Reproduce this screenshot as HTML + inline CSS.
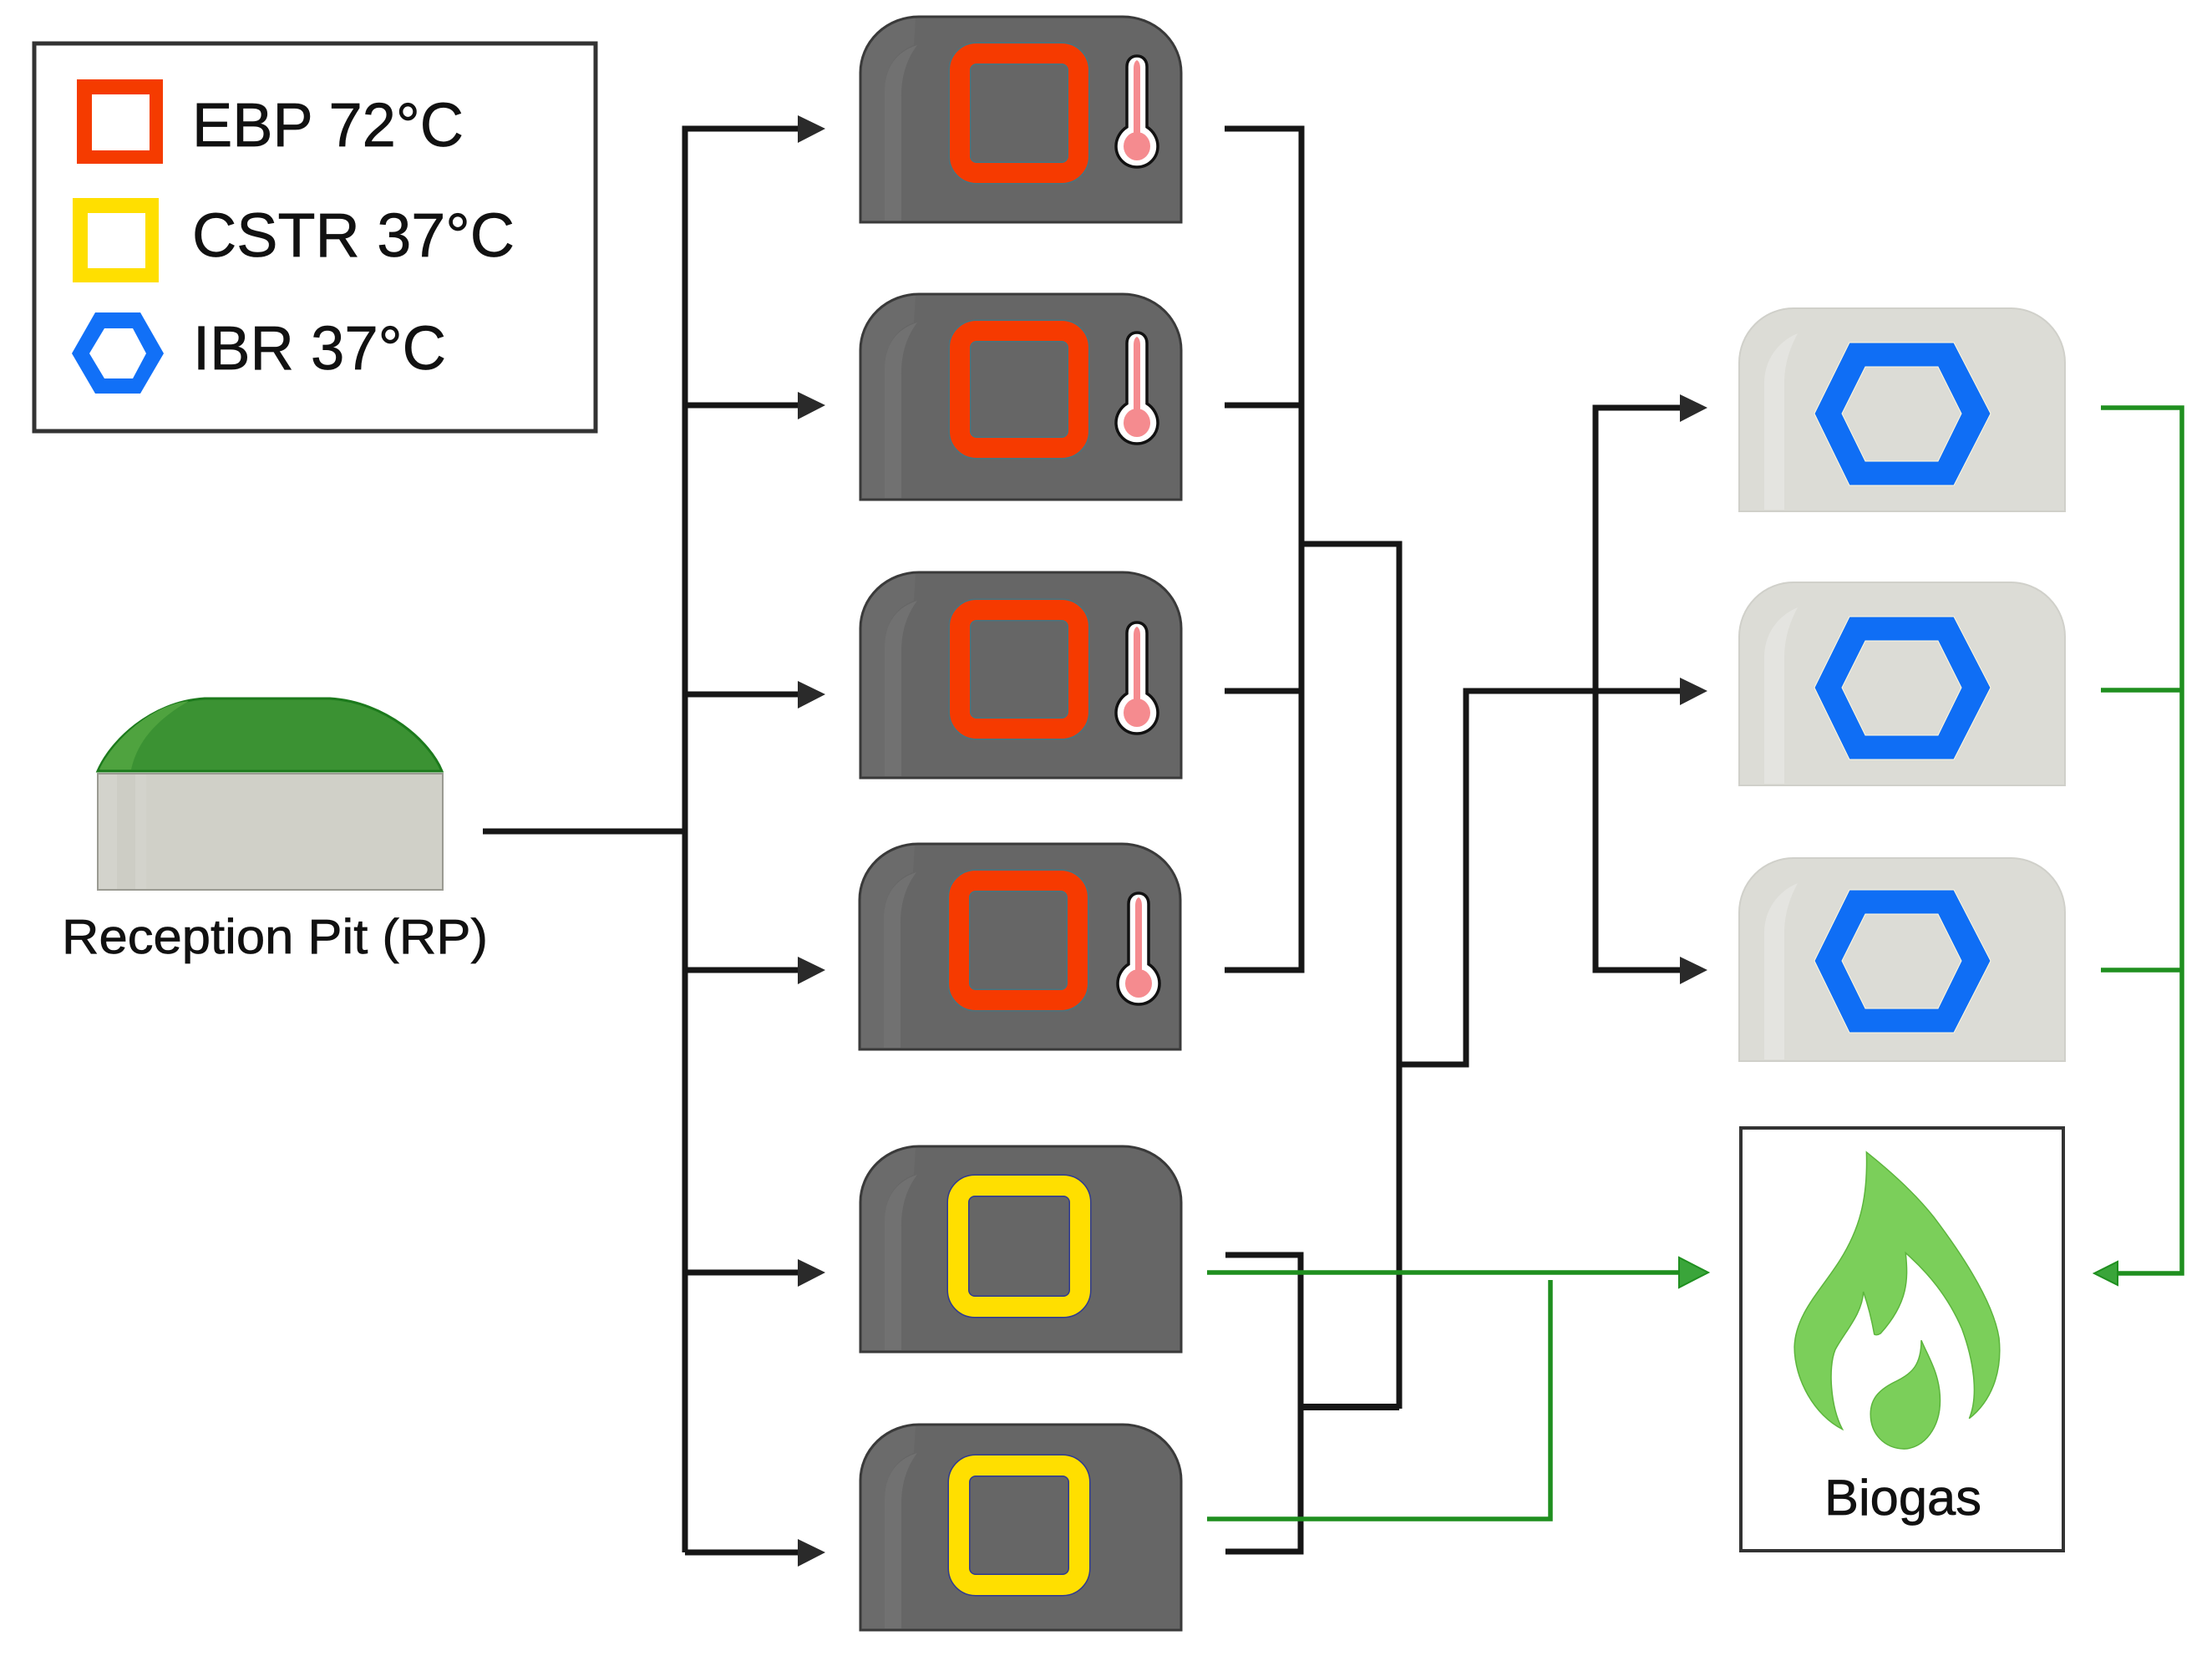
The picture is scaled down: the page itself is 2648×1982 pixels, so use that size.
<!DOCTYPE html>
<html><head><meta charset="utf-8"><style>
html,body{margin:0;padding:0;background:#fff}
svg{display:block}
text{font-family:"Liberation Sans",sans-serif;fill:#111;stroke:#111;stroke-width:.7}
</style></head><body>
<svg xmlns="http://www.w3.org/2000/svg" width="2648" height="1982" viewBox="0 0 2648 1982">
<defs>
<g id="dig">
<path d="M1030 246V67A70 67 0 0 1 1100 0H1344A70 67 0 0 1 1414 67V246Z" fill="#666" stroke="#3a3a3a" stroke-width="3"/>
<path d="M1032 244V67A68 65 0 0 1 1096 2L1094 34C1072 42 1059 62 1059 90V244Z" fill="#6b6b6b"/>
<path d="M1059 244V90C1059 62 1072 42 1098 34C1086 50 1079 70 1079 95V244Z" fill="#717171"/>
</g>
<g id="ibr">
<path d="M2082 243V65A65 65 0 0 1 2147 0H2407A65 65 0 0 1 2472 65V243Z" fill="#dcdcd6" stroke="#d0d0ca" stroke-width="2"/>
<path d="M2112 241V90C2112 62 2128 40 2152 30C2144 45 2136 65 2136 90V241Z" fill="#e4e4e0"/>
</g>
<g id="therm">
<path d="M1349 78C1349 70 1354 65 1361 65C1368 65 1373 70 1373 78V150C1381 155 1386 164 1386 173C1386 187 1375 198 1361 198C1347 198 1336 187 1336 173C1336 164 1341 155 1349 150Z" fill="#fff" stroke="#111" stroke-width="3.5"/>
<path d="M1357 80C1357 74 1359 71 1361 70C1363 71 1365 74 1365 80V158H1357Z" fill="#f58b8f"/>
<ellipse cx="1361" cy="173" rx="16" ry="17" fill="#f58b8f"/>
</g>
<path id="hex" d="M2214 0H2339L2383 85L2339 171H2214L2172 85ZM2233 29L2205 85L2233 142H2320L2348 85L2320 29Z" fill="#0f6ef5" fill-rule="evenodd" stroke="#fff9e0" stroke-width="1"/>
</defs>

<!-- legend -->
<rect x="41" y="52" width="672" height="464" fill="#fff" stroke="#333" stroke-width="5"/>
<path d="M92 95H195V196H92ZM110 113V180H179V113Z" fill="#f53b00" fill-rule="evenodd"/>
<path d="M87 237H190V338H87ZM105 255V321H174V255Z" fill="#ffdf00" fill-rule="evenodd"/>
<path d="M114 374H168L196 423L168 471H114L86 423ZM125 393L107 423L125 453H159L175 423L159 393Z" fill="#1170f7" fill-rule="evenodd"/>
<text x="230" y="175" font-size="74" textLength="325" lengthAdjust="spacingAndGlyphs">EBP 72°C</text>
<text x="230" y="307" font-size="74" textLength="386" lengthAdjust="spacingAndGlyphs">CSTR 37°C</text>
<text x="231" y="442" font-size="74" textLength="303" lengthAdjust="spacingAndGlyphs">IBR 37°C</text>

<!-- reception pit -->
<rect x="117" y="926" width="413" height="139" fill="#d0d0c8" stroke="#9a9a92" stroke-width="2"/>
<rect x="118" y="927" width="57" height="137" fill="#d3d3cc"/>
<rect x="140" y="927" width="22" height="137" fill="#cdcdc5"/>
<path d="M117 923C132 888 180 840 245 836H395C462 840 515 888 529 923Z" fill="#3b9233" stroke="#1c7a1c" stroke-width="3"/>
<path d="M119 921C134 888 180 844 226 839C190 860 165 885 157 921Z" fill="#4fa33f"/>
<text x="74" y="1141" font-size="58" textLength="510" lengthAdjust="spacingAndGlyphs">Reception Pit (RP)</text>

<!-- digesters -->
<use href="#dig" transform="translate(0,20)"/>
<use href="#dig" transform="translate(0,352)"/>
<use href="#dig" transform="translate(0,685)"/>
<use href="#dig" transform="translate(-1,1010)"/>
<use href="#dig" transform="translate(0,1372)"/>
<use href="#dig" transform="translate(0,1705)"/>

<g fill="none">
<g stroke="#3f7a88" stroke-width="27" opacity=".75">
<rect x="1149" y="64" width="142" height="143" rx="20"/>
<rect x="1149" y="396" width="142" height="140" rx="20"/>
<rect x="1149" y="730" width="142" height="142" rx="20"/>
<rect x="1148" y="1054" width="142" height="143" rx="20"/>
</g>
<g stroke="#f63a00" stroke-width="24">
<rect x="1149" y="64" width="142" height="143" rx="20"/>
<rect x="1149" y="396" width="142" height="140" rx="20"/>
<rect x="1149" y="730" width="142" height="142" rx="20"/>
<rect x="1148" y="1054" width="142" height="143" rx="20"/>
</g>
<g stroke="#2f3a90" stroke-width="27">
<rect x="1147" y="1419" width="146" height="145" rx="20"/>
<rect x="1148" y="1754" width="144" height="143" rx="20"/>
</g>
<g stroke="#ffdf00" stroke-width="24">
<rect x="1147" y="1419" width="146" height="145" rx="20"/>
<rect x="1148" y="1754" width="144" height="143" rx="20"/>
</g>
</g>
<use href="#therm" transform="translate(0,2)"/>
<use href="#therm" transform="translate(0,333)"/>
<use href="#therm" transform="translate(0,680)"/>
<use href="#therm" transform="translate(2,1004)"/>

<!-- IBR -->
<use href="#ibr" transform="translate(0,369)"/>
<use href="#ibr" transform="translate(0,697)"/>
<use href="#ibr" transform="translate(0,1027)"/>
<use href="#hex" transform="translate(0,410)"/>
<use href="#hex" transform="translate(0,738)"/>
<use href="#hex" transform="translate(0,1065)"/>

<!-- biogas -->
<rect x="2084" y="1350" width="386" height="506" fill="#fff" stroke="#333" stroke-width="4"/>
<g transform="translate(2060,1330) scale(.375,.357)" fill="#7bcf5a" stroke="#5cb53c" stroke-width="4">
<path d="M465 137C540 200 620 275 680 355C770 480 870 640 888 760C900 880 860 975 793 1030C825 950 805 830 770 730C725 620 660 540 590 475C598 560 600 640 510 745C500 752 492 750 490 748C482 700 470 650 455 605C452 680 395 740 365 800C342 860 350 990 388 1066C300 1020 235 900 235 790C238 680 320 600 380 500C440 400 470 300 465 137Z"/>
<path d="M640 768C660 820 700 880 700 970C700 1060 650 1130 585 1132C520 1130 478 1080 478 1015C478 960 510 930 560 905C610 880 640 850 640 768Z"/>
</g>
<text x="2184" y="1813" font-size="60" textLength="188" lengthAdjust="spacingAndGlyphs">Biogas</text>

<!-- black connectors -->
<g fill="none" stroke="#161616" stroke-width="7">
<path d="M578 995H820"/>
<path d="M820 1858V154H960"/>
<path d="M820 485H960M820 831H960M820 1161H960M820 1523H960M820 1858H960"/>
<path d="M1466 154H1558V1161H1466M1466 485H1558M1466 827H1558"/>
<path d="M1558 651H1675V1686"/>
<path d="M1675 1274H1755V827H2015"/>
<path d="M2015 488H1910V1161H2015"/>
<path d="M1467 1502H1557V1857H1467" stroke-width="7"/>
<path d="M1557 1684H1675" stroke-width="8"/>
</g>
<g fill="#2a2a2a">
<path d="M955 138L988 154L955 171Z"/>
<path d="M955 469L988 485L955 502Z"/>
<path d="M955 815L988 831L955 848Z"/>
<path d="M955 1145L988 1161L955 1178Z"/>
<path d="M955 1507L988 1523L955 1540Z"/>
<path d="M955 1842L988 1858L955 1875Z"/>
<path d="M2011 472L2044 488L2011 505Z"/>
<path d="M2011 811L2044 827L2011 844Z"/>
<path d="M2011 1145L2044 1161L2011 1178Z"/>
</g>

<!-- green connectors -->
<g fill="none" stroke="#1f8f1f" stroke-width="5.5">
<path d="M1445 1523H2012"/>
<path d="M1445 1818H1856V1532"/>
<path d="M2515 488H2612V1524H2530M2515 826H2612M2515 1161H2612"/>
</g>
<path d="M2010 1505L2045 1523L2010 1541Z" fill="#3aa53a" stroke="#1f8f1f" stroke-width="2"/>
<path d="M2507 1524L2535 1510V1538Z" fill="#3aa53a" stroke="#1f8f1f" stroke-width="2"/>
</svg>
</body></html>
